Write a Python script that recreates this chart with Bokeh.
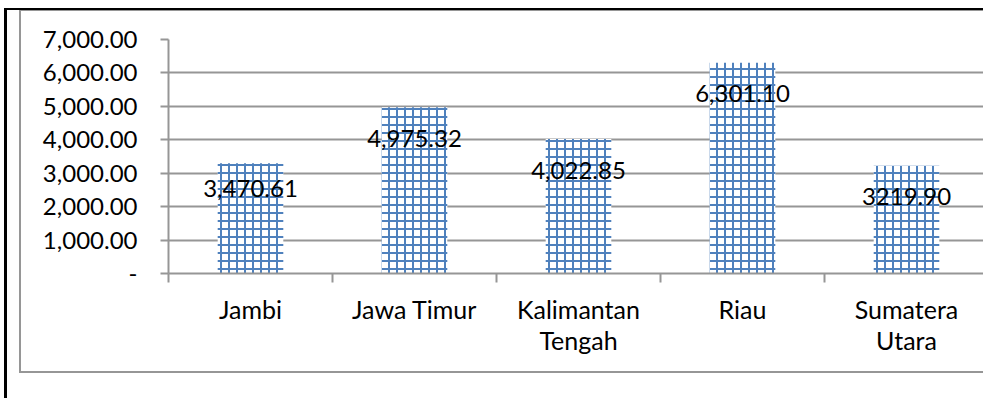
from bokeh.plotting import figure
from bokeh.models import Range1d, FixedTicker, NumeralTickFormatter, ColumnDataSource
from bokeh.core.properties import value
from bokeh.embed import file_html
from bokeh.resources import INLINE

# ---- data ----
regions = ["Jambi", "Jawa Timur", "Kalimantan\nTengah", "Riau", "Sumatera\nUtara"]
bar_values = [3300.0, 4975.32, 4022.85, 6301.10, 3219.90]
label_values = [3470.61, 4975.32, 4022.85, 6301.10, 3219.90]
label_texts = ["3,470.61", "4,975.32", "4,022.85", "6,301.10", "3219.90"]
y_ticks = [0, 1000, 2000, 3000, 4000, 5000, 6000, 7000]

FONT = "Lato"
NUM_SIZE = "24px"
CAT_SIZE = "25px"
GRID = "#969696"
BLUE = "#4F81BD"

W, H = 983, 398
LEFT, TOP, FRAME_BOTTOM_Y = 168, 39, 273
CAT_PX = 164.0
centers = [i + 0.5 for i in range(len(regions))]
bounds = [float(i) for i in range(len(regions) + 1)]

p = figure(width=W, height=H, output_backend="svg", toolbar_location=None,
           x_range=Range1d(0, (W - LEFT) / CAT_PX), y_range=Range1d(0, 7000),
           min_border_left=LEFT, min_border_right=0, min_border_top=TOP,
           min_border_bottom=H - FRAME_BOTTOM_Y)
p.outline_line_color = None
p.background_fill_color = "white"
p.border_fill_alpha = 0

# document frame (black) and chart-area border (gray), drawn as CSS background
imgs = ["linear-gradient(#000,#000)", "linear-gradient(#000,#000)",
        "linear-gradient(#969696,#969696)", "linear-gradient(#969696,#969696)",
        "linear-gradient(#969696,#969696)", "linear-gradient(#969696,#969696)"]
poss = ["4px 8px", "4px 8px", "19px 10px", "19px 210px", "19px 10px", "19px 371px"]
sizes = ["979px 2px", "3px 390px", "2px 200px", "2px 163px", "964px 1px", "964px 2px"]
p.styles = {
    "background-color": "#ffffff",
    "background-image": ", ".join(imgs),
    "background-position": ", ".join(poss),
    "background-size": ", ".join(sizes),
    "background-repeat": "no-repeat",
}

src = ColumnDataSource(dict(x=centers, top=bar_values, ly=label_values,
                            txt=label_texts))
p.vbar(x="x", top="top", width=0.4, bottom=0, source=src,
       fill_color="white", line_color=None,
       hatch_pattern="+", hatch_color=BLUE, hatch_weight=2, hatch_scale=8)
p.text(x="x", y="ly", text="txt", source=src, text_align="center",
       text_baseline="middle", y_offset=31, text_font=value(FONT),
       text_font_size=NUM_SIZE, text_color="black")

# y axis
ya = p.yaxis[0]
ya.ticker = FixedTicker(ticks=y_ticks)
ya.formatter = NumeralTickFormatter(format="0,0.00")
ya.major_label_overrides = {0: "-"}
ya.axis_line_color = GRID
ya.axis_line_width = 2
ya.major_tick_line_color = GRID
ya.major_tick_line_width = 2
ya.major_tick_out = 8
ya.major_tick_in = 0
ya.minor_tick_line_color = None
ya.major_label_standoff = 23
ya.major_label_text_font = FONT
ya.major_label_text_font_size = NUM_SIZE
ya.major_label_text_color = "black"

# x axis
xa = p.xaxis[0]
xa.ticker = FixedTicker(ticks=centers, minor_ticks=bounds)
xa.major_label_overrides = {c: r for c, r in zip(centers, regions)}
xa.axis_line_color = GRID
xa.axis_line_width = 2
xa.major_tick_line_color = None
xa.major_tick_out = 0
xa.major_tick_in = 0
xa.minor_tick_line_color = GRID
xa.minor_tick_line_width = 2
xa.minor_tick_out = 9
xa.minor_tick_in = 0
xa.major_label_standoff = 11
xa.major_label_text_font = FONT
xa.major_label_text_font_size = CAT_SIZE
xa.major_label_text_color = "black"
xa.major_label_text_line_height = 1.06

p.xgrid.grid_line_color = None
p.ygrid.ticker = FixedTicker(ticks=y_ticks)
p.ygrid.grid_line_color = GRID
p.ygrid.grid_line_width = 2

open("out.html", "w").write(file_html(p, INLINE))
